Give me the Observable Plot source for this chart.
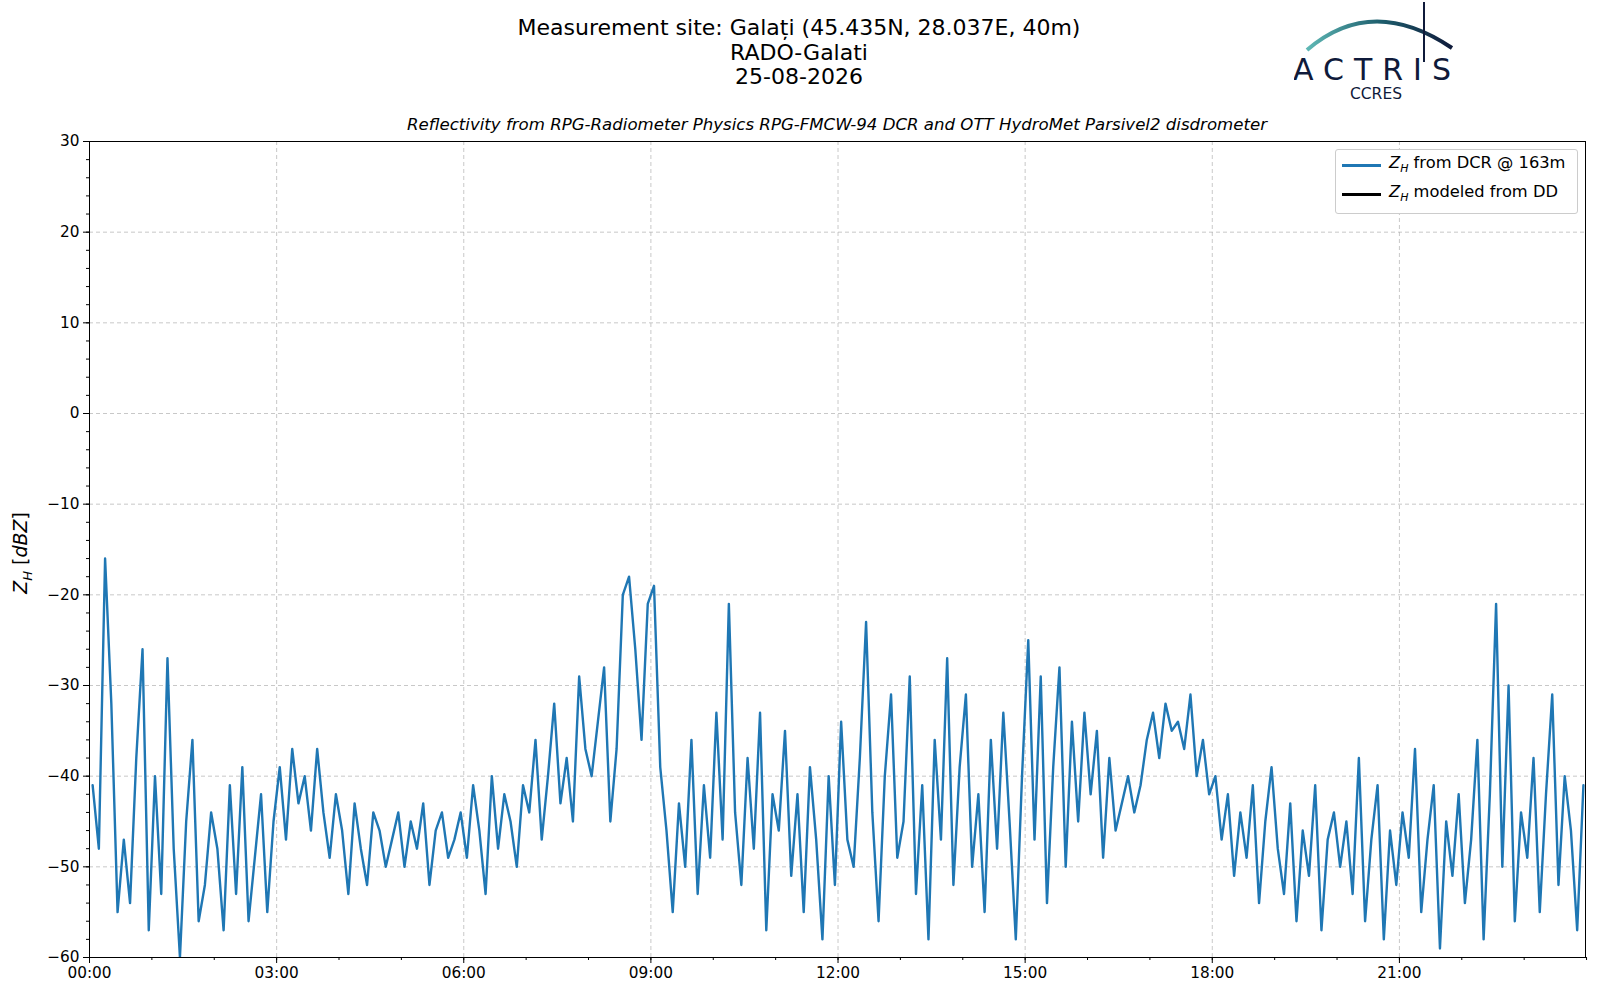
<!DOCTYPE html>
<html><head><meta charset="utf-8">
<script src="https://cdn.jsdelivr.net/npm/d3@7"></script>
<script src="https://cdn.jsdelivr.net/npm/@observablehq/plot@0.6"></script>
<style>
body{margin:0;background:#fff;font-family:"DejaVu Sans",sans-serif;}
#wrap{position:relative;width:1600px;height:1000px;}
#chart{position:absolute;left:0;top:0;}
.t{position:absolute;text-align:center;color:#000;}
</style></head><body>
<div id="wrap">
<div id="chart"></div>
<div class="t" style="left:399px;width:800px;top:16px;font-size:22px;line-height:24.5px;">Measurement site: Galați (45.435N, 28.037E, 40m)<br>RADO-Galati<br>25-08-2026</div>
<div class="t" style="left:89px;width:1496px;top:115px;font-size:16.6px;font-style:italic;">Reflectivity from RPG-Radiometer Physics RPG-FMCW-94 DCR and OTT HydroMet Parsivel2 disdrometer</div>
<div class="t" style="left:-78px;top:540px;width:200px;font-size:19px;transform:rotate(-90deg);"><i>Z<sub style="font-size:13px">H</sub></i> [<i>dBZ</i>]</div>
<div style="position:absolute;left:1335px;top:149px;width:241px;height:63px;border:1px solid #ccc;border-radius:3px;background:#fff;font-size:16.3px;">
  <div style="position:absolute;left:6px;top:14px;width:39px;height:2.5px;background:#1f77b4"></div>
  <div style="position:absolute;left:53px;top:3px;"><i>Z<sub style="font-size:11px">H</sub></i> from DCR @ 163m</div>
  <div style="position:absolute;left:6px;top:43px;width:39px;height:2.5px;background:#000"></div>
  <div style="position:absolute;left:53px;top:32px;"><i>Z<sub style="font-size:11px">H</sub></i> modeled from DD</div>
</div>
<svg style="position:absolute;left:1294px;top:0px" width="170" height="105">
  <defs><linearGradient id="g" x1="0" x2="1"><stop offset="0" stop-color="#5fb8b5"/><stop offset="0.5" stop-color="#1e5f6e"/><stop offset="1" stop-color="#0f1a3a"/></linearGradient></defs>
  <path d="M13,50 Q78,-6 158,48" fill="none" stroke="url(#g)" stroke-width="4"/>
  <line x1="130" y1="2" x2="130" y2="62" stroke="#0f1a3a" stroke-width="2"/>
  <text x="83" y="80" text-anchor="middle" font-size="30" letter-spacing="10" fill="#0f1a3a" font-family="DejaVu Sans">ACTRIS</text>
  <text x="82" y="99" text-anchor="middle" font-size="15.5" fill="#0f1a3a" font-family="DejaVu Sans">CCRES</text>
</svg>
</div>
<script>
const startMinute = 3;
const stepMinutes = 6;
const zh = [
-41,-48,-16,-32,-55,-47,-54,-38,-26,-57,
-40,-53,-27,-48,-60,-45,-36,-56,-52,-44,
-48,-57,-41,-53,-39,-56,-49,-42,-55,-45,
-39,-47,-37,-43,-40,-46,-37,-44,-49,-42,
-46,-53,-43,-48,-52,-44,-46,-50,-47,-44,
-50,-45,-48,-43,-52,-46,-44,-49,-47,-44,
-49,-41,-46,-53,-40,-48,-42,-45,-50,-41,
-44,-36,-47,-40,-32,-43,-38,-45,-29,-37,
-40,-34,-28,-45,-37,-20,-18,-26,-36,-21,
-19,-39,-46,-55,-43,-50,-36,-53,-41,-49,
-33,-47,-21,-44,-52,-38,-48,-33,-57,-42,
-46,-35,-51,-42,-55,-39,-47,-58,-40,-52,
-34,-47,-50,-38,-23,-44,-56,-40,-31,-49,
-45,-29,-53,-41,-58,-36,-47,-27,-52,-39,
-31,-50,-42,-55,-36,-48,-33,-45,-58,-40,
-25,-47,-29,-54,-39,-28,-50,-34,-45,-33,
-42,-35,-49,-38,-46,-43,-40,-44,-41,-36,
-33,-38,-32,-35,-34,-37,-31,-40,-36,-42,
-40,-47,-42,-51,-44,-49,-41,-54,-45,-39,
-48,-53,-43,-56,-46,-51,-41,-57,-47,-44,
-50,-45,-53,-38,-56,-47,-41,-58,-46,-52,
-44,-49,-37,-55,-47,-41,-59,-45,-51,-42,
-54,-47,-36,-58,-42,-21,-50,-30,-56,-44,
-49,-38,-55,-42,-31,-52,-40,-46,-57,-41
];
const day0 = new Date(Date.UTC(2026,7,25,0,0));
const data = zh.map((v,i)=>({t:new Date(day0.getTime()+(startMinute+i*stepMinutes)*60000), v}));
const xTicks = d3.range(0,24,3).map(h=>new Date(day0.getTime()+h*3600000));
const xMinor = d3.range(0,25,1).map(h=>new Date(day0.getTime()+h*3600000));
const yTicks = d3.range(-60,31,10);
const yMinor = d3.range(-60,31,2);
const fmt = d3.utcFormat("%H:%M");
const plot = Plot.plot({
  width:1600, height:1000, marginLeft:89, marginRight:15, marginTop:141, marginBottom:43,
  style:{fontFamily:"DejaVu Sans", fontSize:"15.3px", color:"#000"},
  x:{type:"utc", domain:[day0,new Date(day0.getTime()+24*3600000-60000)], label:null},
  y:{domain:[-60,30], label:null},
  marks:[
    Plot.gridX(xTicks,{stroke:"#b0b0b0", strokeOpacity:0.7, strokeDasharray:"4,3"}),
    Plot.gridY(yTicks,{stroke:"#b0b0b0", strokeOpacity:0.7, strokeDasharray:"4,3"}),
    Plot.axisX(xMinor,{tickSize:3, text:null}),
    Plot.axisY(yMinor,{tickSize:3, text:null}),
    Plot.axisX(xTicks,{tickSize:6, tickFormat:fmt, tickPadding:4, fontSize:15.3}),
    Plot.axisY(yTicks,{tickSize:6, tickFormat:d=>d<0?"\u2212"+(-d):d, tickPadding:4, fontSize:15.3}),
    Plot.lineY(data,{x:"t", y:"v", stroke:"#1f77b4", strokeWidth:2.4, clip:true}),
    Plot.frame({stroke:"#000"})
  ]
});
document.getElementById("chart").appendChild(plot);
</script></body></html>
